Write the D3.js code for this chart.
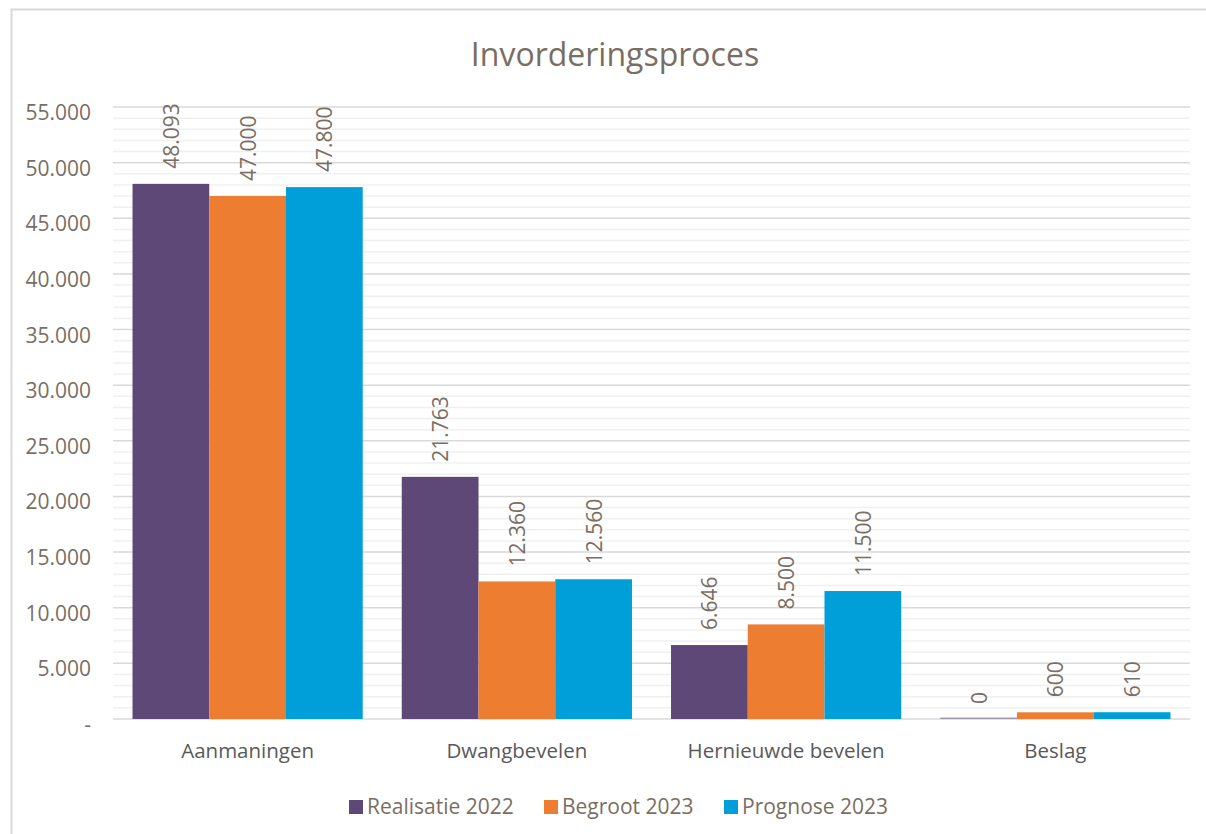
<!DOCTYPE html>
<html>
<head>
<meta charset="utf-8">
<script src="https://cdn.jsdelivr.net/npm/d3@7"></script>
<style>
  body { margin: 0; background: #fff; }
  svg { display: block; font-family: "Open Sans", Lato, sans-serif; }
</style>
</head>
<body>
<svg id="chart" width="1206" height="834"></svg>
<script>
// data
var categories = ["Aanmaningen", "Dwangbevelen", "Hernieuwde bevelen", "Beslag"]
var seriesNames = ["Realisatie 2022", "Begroot 2023", "Prognose 2023"]
var realisatie2022 = [48093, 21763, 6646, 0]
var begroot2023 = [47000, 12360, 8500, 600]
var prognose2023 = [47800, 12560, 11500, 610]
var colors = ["#5E4878", "#ED7D31", "#009FDA"]
var yTicks = [0, 5000, 10000, 15000, 20000, 25000, 30000, 35000, 40000, 45000, 50000, 55000]

var series = [realisatie2022, begroot2023, prognose2023]
var textCol = "#7a6e62"

var svg = d3.select("#chart")

// chart frame
svg.append("path")
  .attr("d", "M11.5,834 V9.5 H1206")
  .attr("fill", "none")
  .attr("stroke", "#d9d9d9")
  .attr("stroke-width", 2)

var m = { left: 113, right: 1190, top: 107, bottom: 719 }

var x = d3.scaleBand().domain(categories).range([m.left, m.right]).paddingInner(0.145).paddingOuter(0.0725)
var xs = d3.scaleBand().domain(d3.range(series.length)).range([0, x.bandwidth()])
var y = d3.scaleLinear().domain([0, 55000]).range([m.bottom, m.top])

// minor grid
svg.append("g").selectAll("line")
  .data(d3.range(0, 55001, 1000).filter(function (d) { return d % 5000 }))
  .enter().append("line")
  .attr("x1", m.left).attr("x2", m.right)
  .attr("y1", function (d) { return y(d) }).attr("y2", function (d) { return y(d) })
  .attr("stroke", "#f0f0f0").attr("stroke-width", 1.5)

// major grid
svg.append("g").selectAll("line")
  .data(yTicks)
  .enter().append("line")
  .attr("x1", m.left).attr("x2", m.right)
  .attr("y1", function (d) { return y(d) }).attr("y2", function (d) { return y(d) })
  .attr("stroke", "#d9d9d9").attr("stroke-width", 1.5)

var fmt = function (d) { return d === 0 ? "-" : d3.format(",")(d).replace(/,/g, ".") }

// y axis labels
svg.append("g").selectAll("text")
  .data(yTicks)
  .enter().append("text")
  .attr("x", 91)
  .attr("y", function (d) { return y(d) + 13 })
  .attr("text-anchor", "end")
  .attr("font-size", 21)
  .attr("fill", textCol)
  .text(fmt)

// bars
var groups = svg.append("g").selectAll("g")
  .data(series)
  .enter().append("g")
  .attr("fill", function (d, i) { return colors[i] })

groups.each(function (vals, si) {
  var g = d3.select(this)
  g.selectAll("rect")
    .data(vals)
    .enter().append("rect")
    .attr("x", function (d, i) { return x(categories[i]) + xs(si) })
    .attr("width", xs.bandwidth())
    .attr("y", function (d) { return Math.min(y(d), y(0) - 1.5) })
    .attr("height", function (d) { return Math.max(y(0) - y(d), 1.5) })
    .attr("opacity", function (d) { return d === 0 ? 0.5 : 1 })

  g.selectAll("text")
    .data(vals)
    .enter().append("text")
    .attr("transform", function (d, i) {
      var cx = x(categories[i]) + xs(si) + xs.bandwidth() / 2
      return "translate(" + (cx + 8) + "," + (y(d) - 15) + ") rotate(-90)"
    })
    .attr("font-size", 21)
    .attr("fill", textCol)
    .text(function (d) { return d3.format(",")(d).replace(/,/g, ".") })
})

// category labels
svg.append("g").selectAll("text")
  .data(categories)
  .enter().append("text")
  .attr("x", function (d) { return x(d) + x.bandwidth() / 2 })
  .attr("y", 758)
  .attr("text-anchor", "middle")
  .attr("font-size", 20.5)
  .attr("fill", "#595959")
  .text(function (d) { return d })

// title
svg.append("text")
  .attr("x", 615).attr("y", 66)
  .attr("text-anchor", "middle")
  .attr("font-size", 32)
  .attr("fill", textCol)
  .text("Invorderingsproces")

// legend
var legendX = [349, 544, 724]
var leg = svg.append("g").selectAll("g")
  .data(seriesNames)
  .enter().append("g")
  .attr("transform", function (d, i) { return "translate(" + legendX[i] + ",800)" })
leg.append("rect").attr("width", 14).attr("height", 14)
  .attr("fill", function (d, i) { return colors[i] })
leg.append("text").attr("x", 18).attr("y", 14)
  .attr("font-size", 21)
  .attr("fill", textCol)
  .text(function (d) { return d })
</script>
</body>
</html>
